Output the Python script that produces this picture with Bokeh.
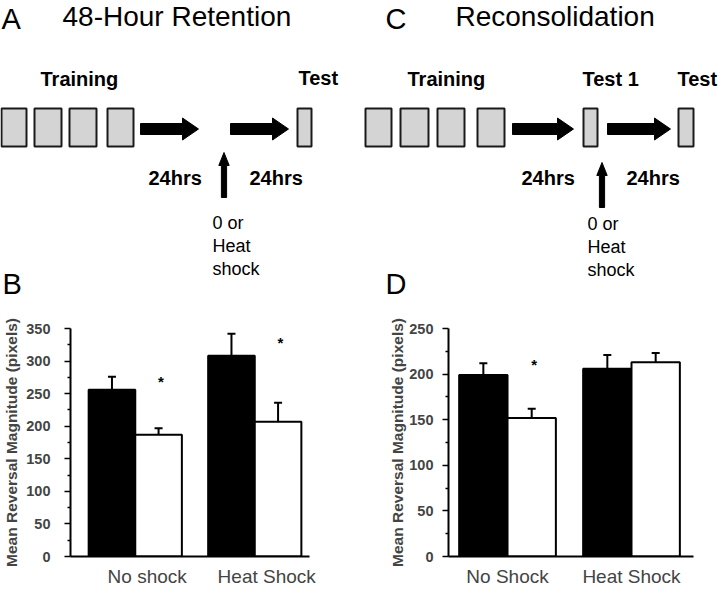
from bokeh.plotting import figure
from bokeh.layouts import column, row
from bokeh.models import Range1d, FixedTicker, ColumnDataSource, Whisker, TeeHead
from bokeh.core.properties import value
from bokeh.embed import file_html
from bokeh.resources import INLINE

FONT = "Liberation Sans"

# ---------------- Bar chart data ----------------
groups_B = ["No shock", "Heat Shock"]
black_B = [256, 308]
black_err_B = [20, 34]
white_B = [187, 207]
white_err_B = [10, 29]
star_group_B = [0, 1]
star_y_B = [269, 328]
yticks_B = [0, 50, 100, 150, 200, 250, 300, 350]
yminor_B = [25, 75, 125, 175, 225, 275, 325]

groups_D = ["No Shock", "Heat Shock"]
black_D = [199, 206]
black_err_D = [13, 15]
white_D = [152, 213]
white_err_D = [10, 10]
star_group_D = [0]
star_y_D = [210]
yticks_D = [0, 50, 100, 150, 200, 250]
yminor_D = [25, 75, 125, 175, 225]

y_label = "Mean Reversal Magnitude (pixels)"

# ---------------- Schematic content ----------------
A_letter, A_title = "A", "48-Hour Retention"
A_box_left = [1, 34, 69, 107, 297]
A_box_right = [26, 61, 96, 133, 311]
A_harrow_x0 = [140, 230]
A_harrow_x1 = [198, 288]
A_varrow_x = [223.5]
A_varrow_tip = [152]
A_varrow_base = [197]
A_bold_text = ["Training", "Test", "24hrs", "24hrs"]
A_bold_x = [40, 298, 148, 249]
A_bold_y = [85, 84, 184, 184]
A_note_x = 212
A_note_y = [228, 251, 274]

C_letter, C_title = "C", "Reconsolidation"
C_box_left = [5, 40, 77, 117, 223, 318]
C_box_right = [31, 68, 104, 144, 237, 333]
C_harrow_x0 = [152, 247]
C_harrow_x1 = [213, 310]
C_varrow_x = [241.5]
C_varrow_tip = [162]
C_varrow_base = [207]
C_bold_text = ["Training", "Test 1", "Test", "24hrs", "24hrs"]
C_bold_x = [47, 222, 317, 161, 266]
C_bold_y = [85, 85, 85, 184, 184]
C_note_x = 227
C_note_y = [229, 252, 275]

note_lines = ["0 or", "Heat", "shock"]

W, H_TOP, H_BOT = 360, 300, 294
BASE_FIX = 0.33  # renderer places 'alphabetic' text lower by about this many em


def txt(p, xs, ys, texts, size, bold=False):
    ys2 = [y - BASE_FIX * size for y in ys]
    p.text(x=xs, y=ys2, text=texts, text_font=value(FONT), text_font_size=f"{size}px",
           text_font_style="bold" if bold else "normal", text_align="left",
           text_baseline="alphabetic", text_color="black")


def schematic(letter, title, title_x, letter_x, box_l, box_r, hx0, hx1, vx, vtip, vbase,
              btxt, bx, by, note_x, note_y, bottom_letter, bottom_letter_x, bottom_letter_y):
    p = figure(width=W, height=H_TOP, x_range=Range1d(0, 360), y_range=Range1d(300, 0),
               output_backend="svg", toolbar_location=None, min_border=0,
               x_axis_location=None, y_axis_location=None)
    p.outline_line_color = None
    p.grid.visible = False
    p.quad(left=box_l, right=box_r, top=[108] * len(box_l), bottom=[146] * len(box_l),
           fill_color="#d4d4d4", line_color="#1a1a1a", line_width=2)
    yc, sh, hh, hl = 128.5, 5.5, 11, 16
    xs, ys = [], []
    for a, b in zip(hx0, hx1):
        xs.append([a, b - hl, b - hl, b, b - hl, b - hl, a])
        ys.append([yc - sh, yc - sh, yc - hh, yc, yc + hh, yc + sh, yc + sh])
    vs, vh, vl = 2.6, 5.2, 13
    for x, t, b in zip(vx, vtip, vbase):
        xs.append([x - vs, x - vs, x - vh, x, x + vh, x + vs, x + vs])
        ys.append([b, t + vl, t + vl, t, t + vl, t + vl, b])
    p.patches(xs=xs, ys=ys, fill_color="black", line_color="black", line_width=1)
    txt(p, [letter_x], [28], [letter], 29)
    txt(p, [title_x], [25.5], [title], 28)
    txt(p, bx, by, btxt, 20, bold=True)
    txt(p, [note_x] * 3, note_y, note_lines, 18)
    txt(p, [bottom_letter_x], [bottom_letter_y], [bottom_letter], 29)
    return p


def bar_panel(groups, black, black_err, white, white_err, star_g, star_y, yticks, yminor,
              ymax, xr, borders, label_standoff, tick_standoff, shift):
    left, right, top, bottom = borders
    p = figure(width=W, height=H_BOT, x_range=Range1d(*xr), y_range=Range1d(0, ymax),
               output_backend="svg", toolbar_location=None,
               min_border_left=left, min_border_right=right,
               min_border_top=top, min_border_bottom=bottom)
    p.outline_line_color = None
    p.grid.visible = False
    idx = list(range(len(groups)))
    off, w = 0.195, 0.39
    src_b = ColumnDataSource(dict(x=[i + shift - off for i in idx], top=black,
                                  up=[v + e for v, e in zip(black, black_err)]))
    src_w = ColumnDataSource(dict(x=[i + shift + off for i in idx], top=white,
                                  up=[v + e for v, e in zip(white, white_err)]))
    p.vbar(x="x", top="top", bottom=0, width=w, source=src_b,
           fill_color="black", line_color="black", line_width=2)
    p.vbar(x="x", top="top", bottom=0, width=w, source=src_w,
           fill_color="white", line_color="black", line_width=2)
    for src in (src_b, src_w):
        p.add_layout(Whisker(source=src, base="x", lower="top", upper="up",
                             line_color="black", line_width=2,
                             upper_head=TeeHead(size=8, line_color="black", line_width=2),
                             lower_head=None))
    p.text(x=[g + shift + off + 0.02 for g in star_g], y=star_y, text=["*"] * len(star_g),
           text_font=value(FONT), text_font_size="15px", text_font_style="bold",
           text_align="center", text_baseline="middle")
    ya = p.yaxis[0]
    ya.ticker = FixedTicker(ticks=yticks, minor_ticks=yminor)
    ya.axis_label = y_label
    ya.axis_label_text_font = FONT
    ya.axis_label_text_font_style = "bold"
    ya.axis_label_text_font_size = "15.5px"
    ya.axis_label_standoff = label_standoff
    ya.major_label_text_font = FONT
    ya.major_label_text_font_style = "bold"
    ya.major_label_text_font_size = "14.5px"
    ya.major_label_standoff = tick_standoff
    ya.major_tick_out, ya.major_tick_in = 6, 0
    ya.minor_tick_out, ya.minor_tick_in = 3, 0
    ya.axis_line_width = 2
    ya.major_tick_line_width = 1.5
    ya.minor_tick_line_width = 1.5
    xa = p.xaxis[0]
    xa.ticker = FixedTicker(ticks=idx)
    xa.major_label_overrides = {i: g for i, g in enumerate(groups)}
    xa.major_label_text_font = FONT
    xa.major_label_text_font_size = "19px"
    xa.major_label_standoff = 9
    xa.major_tick_out, xa.major_tick_in = 0, 0
    xa.minor_tick_out, xa.minor_tick_in = 0, 0
    xa.axis_line_width = 2
    return p


pA = schematic(A_letter, A_title, 62, 1, A_box_left, A_box_right, A_harrow_x0, A_harrow_x1,
               A_varrow_x, A_varrow_tip, A_varrow_base, A_bold_text, A_bold_x, A_bold_y,
               A_note_x, A_note_y, "B", 2, 293)
pC = schematic(C_letter, C_title, 95, 25, C_box_left, C_box_right, C_harrow_x0, C_harrow_x1,
               C_varrow_x, C_varrow_tip, C_varrow_base, C_bold_text, C_bold_x, C_bold_y,
               C_note_x, C_note_y, "D", 25, 293)
pB = bar_panel(groups_B, black_B, black_err_B, white_B, white_err_B, star_group_B, star_y_B,
               yticks_B, yminor_B, 350, (-0.642, 1.358), (69, 51, 28, 35), 3, 14, -0.1)
pD = bar_panel(groups_D, black_D, black_err_D, white_D, white_err_D, star_group_D, star_y_D,
               yticks_D, yminor_D, 250, (-0.476, 1.5), (88, 27, 25, 38), 0, 9, 0.0)

layout = column(row(pA, pC), row(pB, pD))
open("out.html", "w").write(file_html(layout, INLINE))
